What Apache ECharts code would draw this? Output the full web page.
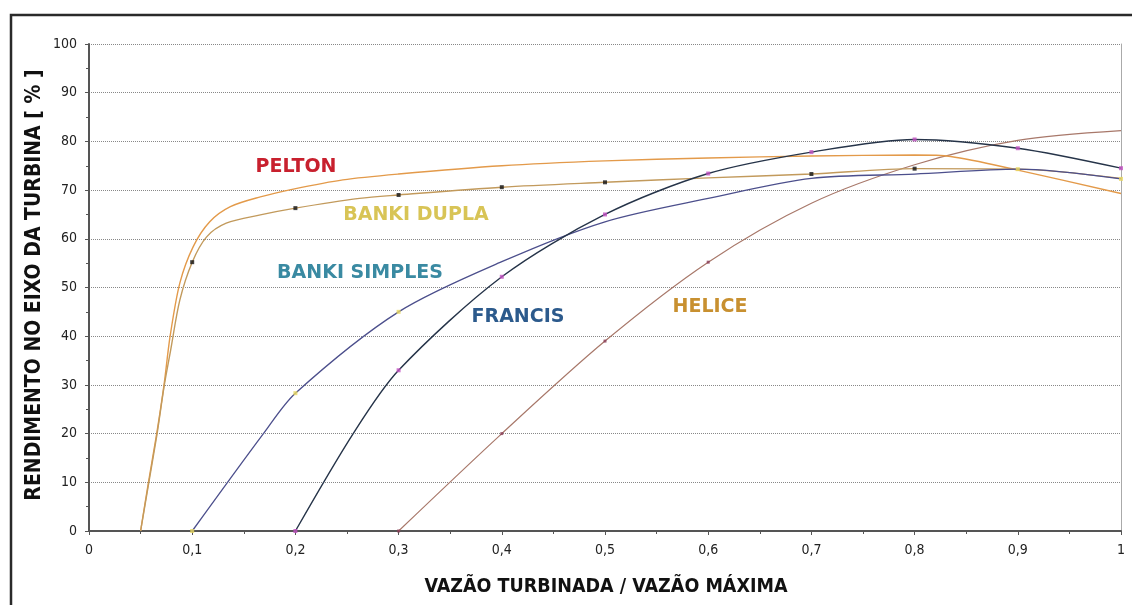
<!DOCTYPE html>
<html>
<head>
<meta charset="utf-8">
<script src="https://cdn.jsdelivr.net/npm/echarts@6/dist/echarts.min.js"></script>
<style>
html,body{margin:0;padding:0;background:#fff;}
#chart{width:1132px;height:605px;}
</style>
</head>
<body>
<div id="chart"></div>
<script>
// Curve points [x, rendimento %]
const pelton = [[0.05,0],[0.0576,10],[0.0656,20],[0.0727,30],[0.0786,40],[0.088,50.9],[0.101,58.4],[0.117,63.5],[0.137,66.6],[0.166,68.6],[0.198,70.2],[0.246,72.1],[0.3,73.3],[0.4,75],[0.5,76],[0.6,76.6],[0.7,77],[0.8,77.2],[0.835,76.9],[0.9,74.1],[1,69.3]];
const bankiDupla = [[0.05,0],[0.058,10],[0.066,20],[0.073,30],[0.079,37],[0.088,47.4],[0.1,55.2],[0.114,60.4],[0.133,63.2],[0.166,64.9],[0.2,66.3],[0.262,68.3],[0.3,69],[0.4,70.6],[0.5,71.6],[0.6,72.5],[0.7,73.3],[0.8,74.4],[0.9,74.3],[1,72.4]];
const bankiSimples = [[0.1,0],[0.169,20],[0.2,28.3],[0.3,45],[0.4,55.3],[0.5,63.5],[0.6,68.3],[0.7,72.4],[0.8,73.3],[0.9,74.3],[1,72.3]];
const francis = [[0.2,0],[0.256,20],[0.3,33],[0.4,52.2],[0.5,65],[0.6,73.4],[0.7,77.8],[0.8,80.4],[0.9,78.6],[1,74.5]];
const helice = [[0.3,0],[0.4,20],[0.5,39],[0.6,55.2],[0.7,67.3],[0.8,75.2],[0.9,80.2],[1,82.2]];

// Marker points (data points of the original spreadsheet)
const duplaMarks = [[0.1,55.2],[0.2,66.3],[0.3,69],[0.4,70.6],[0.5,71.6],[0.7,73.3],[0.8,74.4]];
const simplesMarks = [[0.1,0],[0.2,28.3],[0.3,45],[0.9,74.3],[1,72.3]];
const francisMarks = [[0.2,0],[0.3,33],[0.4,52.2],[0.5,65],[0.6,73.4],[0.7,77.8],[0.8,80.4],[0.9,78.6],[1,74.5]];
const heliceMarks = [[0.3,0],[0.4,20],[0.5,39],[0.6,55.2]];

const curveLabels = ['PELTON','BANKI DUPLA','BANKI SIMPLES','FRANCIS','HELICE'];
const xTitle = 'VAZÃO TURBINADA / VAZÃO MÁXIMA';
const yTitle = 'RENDIMENTO NO EIXO DA TURBINA [ % ]';

const narrow = "'Liberation Sans Narrow','DejaVu Sans Condensed','Liberation Sans',sans-serif";
const wide = "'DejaVu Sans',Verdana,sans-serif";

function lineS(name, data, color, width){
  return {name, type:'line', data, smooth:0.3, showSymbol:false, symbol:'none',
    lineStyle:{color, width}, z:2, silent:true};
}
function markS(data, color, size){
  return {type:'scatter', data, symbol:'rect', symbolSize:size, itemStyle:{color}, z:3, silent:true};
}

const chart = echarts.init(document.getElementById('chart'));
chart.setOption({
  animation:false,
  backgroundColor:'#fff',
  grid:{left:89, right:11, top:44, bottom:74},
  xAxis:{type:'value', min:0, max:1, interval:0.1,
    axisLine:{lineStyle:{color:'#555', width:2}},
    axisTick:{length:4, lineStyle:{color:'#555'}},
    minorTick:{show:true, splitNumber:2, length:3, lineStyle:{color:'#555'}},
    splitLine:{show:false},
    axisLabel:{margin:12, color:'#222', fontSize:14, fontFamily:narrow,
      formatter:v=> (v===0?'0':(Math.abs(v-1)<1e-9?'1':v.toFixed(1).replace('.',',')))}
  },
  yAxis:[{type:'value', min:0, max:100, interval:10,
    axisLine:{show:true, lineStyle:{color:'#555', width:2}},
    axisTick:{show:true, length:4, lineStyle:{color:'#555'}},
    minorTick:{show:true, splitNumber:2, length:3, lineStyle:{color:'#555'}},
    splitLine:{show:true, lineStyle:{color:'#888', type:'dotted', width:1}},
    axisLabel:{margin:12, color:'#222', fontSize:14, fontFamily:narrow}
  },{type:'value', min:0, max:100, position:'right',
    axisLine:{show:true, lineStyle:{color:'#aaa', width:1}},
    axisTick:{show:false}, axisLabel:{show:false}, splitLine:{show:false}
  }],
  series:[
    lineS('HELICE', helice, '#a8786a', 1.2),
    lineS('PELTON', pelton, '#e39a4a', 1.4),
    lineS('BANKI DUPLA', bankiDupla, '#c29a5c', 1.4),
    lineS('BANKI SIMPLES', bankiSimples, '#4c4f8c', 1.3),
    lineS('FRANCIS', francis, '#263449', 1.4),
    markS(duplaMarks, '#111', 4),
    markS(simplesMarks, '#e8d860', 4),
    markS(francisMarks, '#c050c0', 4),
    markS(heliceMarks, '#8a3c58', 3)
  ],
  graphic:[
    {type:'rect', shape:{x:11, y:15, width:1200, height:700}, style:{fill:null, stroke:'#2a2a2a', lineWidth:2.5}, silent:true},
    {type:'text', x:296, y:167, style:{text:curveLabels[0], fill:'#c8202e', font:"bold 19px "+wide, align:'center', verticalAlign:'middle'}},
    {type:'text', x:416, y:215, style:{text:curveLabels[1], fill:'#d8c456', font:"bold 19px "+wide, align:'center', verticalAlign:'middle'}},
    {type:'text', x:360, y:273, style:{text:curveLabels[2], fill:'#3a8aa2', font:"bold 19px "+wide, align:'center', verticalAlign:'middle'}},
    {type:'text', x:518, y:317, style:{text:curveLabels[3], fill:'#2c5a8c', font:"bold 19px "+wide, align:'center', verticalAlign:'middle'}},
    {type:'text', x:710, y:307, style:{text:curveLabels[4], fill:'#c89030', font:"bold 19px "+wide, align:'center', verticalAlign:'middle'}},
    {type:'text', x:606, y:587, style:{text:xTitle, fill:'#111', font:"bold 19.5px "+narrow, align:'center', verticalAlign:'middle'}},
    {type:'text', x:35, y:285, rotation:Math.PI/2, style:{text:yTitle, fill:'#111', font:"bold 21px "+narrow, align:'center', verticalAlign:'middle'}}
  ]
});
</script>
</body>
</html>
